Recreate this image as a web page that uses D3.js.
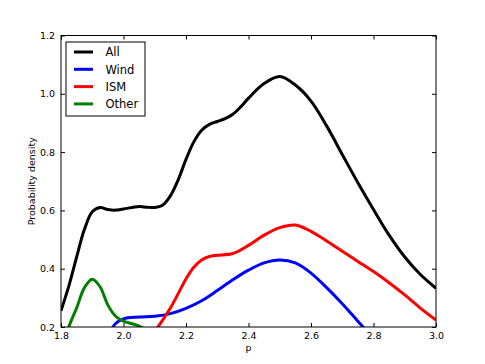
<!DOCTYPE html>
<html>
<head>
<meta charset="utf-8">
<script src="https://cdn.jsdelivr.net/npm/d3@7"></script>
<style>
  body { margin: 0; background: #fff; }
  text { font-family: "DejaVu Sans", sans-serif; }
</style>
</head>
<body>
<div id="my_dataviz"></div>
<script>
// data (p, density)
var pAll    = [1.8, 1.825, 1.85, 1.875, 1.9, 1.925, 1.95, 1.975, 2.0, 2.05, 2.075, 2.1, 2.125, 2.15, 2.175, 2.2, 2.225, 2.25, 2.275, 2.3, 2.325, 2.35, 2.375, 2.4, 2.45, 2.5, 2.55, 2.6, 2.65, 2.7, 2.75, 2.8, 2.85, 2.9, 2.95, 3.0];
var densAll = [0.256, 0.34, 0.44, 0.535, 0.595, 0.61, 0.603, 0.601, 0.605, 0.613, 0.611, 0.61, 0.618, 0.65, 0.705, 0.775, 0.835, 0.875, 0.895, 0.905, 0.915, 0.93, 0.955, 0.985, 1.035, 1.059, 1.03, 0.975, 0.89, 0.792, 0.695, 0.603, 0.515, 0.44, 0.38, 0.333];

var pWind    = [1.95, 1.975, 2.0, 2.05, 2.1, 2.15, 2.2, 2.25, 2.3, 2.35, 2.4, 2.45, 2.5, 2.55, 2.6, 2.65, 2.7, 2.75, 2.8];
var densWind = [0.17, 0.212, 0.228, 0.234, 0.237, 0.246, 0.264, 0.29, 0.325, 0.362, 0.395, 0.42, 0.43, 0.42, 0.385, 0.335, 0.28, 0.22, 0.16];

var pISM    = [2.05, 2.1, 2.15, 2.2, 2.225, 2.25, 2.275, 2.3, 2.35, 2.4, 2.45, 2.5, 2.55, 2.6, 2.65, 2.7, 2.75, 2.8, 2.85, 2.9, 2.95, 3.0];
var densISM = [0.12, 0.185, 0.265, 0.365, 0.405, 0.43, 0.442, 0.446, 0.452, 0.48, 0.515, 0.541, 0.55, 0.528, 0.495, 0.46, 0.425, 0.39, 0.352, 0.31, 0.265, 0.224];

var pOther    = [1.8, 1.825, 1.85, 1.875, 1.9, 1.925, 1.95, 1.975, 2.0, 2.025, 2.05, 2.075];
var densOther = [0.1, 0.2, 0.265, 0.335, 0.364, 0.338, 0.275, 0.237, 0.22, 0.212, 0.203, 0.19];

var seriesNames  = ["All", "Wind", "ISM", "Other"];
var seriesColors = ["#000000", "#0000ff", "#ff0000", "#008000"];
var xTicks = [1.8, 2.0, 2.2, 2.4, 2.6, 2.8, 3.0];
var yTicks = [0.2, 0.4, 0.6, 0.8, 1.0, 1.2];

var margin = {top: 35.5, right: 49, bottom: 37, left: 61},
    width = 485 - margin.left - margin.right,
    height = 364 - margin.top - margin.bottom;

var svg = d3.select("#my_dataviz")
  .append("svg")
    .attr("width", 485)
    .attr("height", 364)
  .append("g")
    .attr("transform", "translate(" + margin.left + "," + margin.top + ")");

var x = d3.scaleLinear().domain([1.8, 3.0]).range([0, width]);
var y = d3.scaleLinear().domain([0.2, 1.2]).range([height, 0]);

svg.append("clipPath").attr("id", "clip")
  .append("rect").attr("width", width).attr("height", height);

var series = [
  {p: pAll, d: densAll},
  {p: pWind, d: densWind},
  {p: pISM, d: densISM},
  {p: pOther, d: densOther}
];

var line = d3.line()
  .x(function(d) { return x(d[0]); })
  .y(function(d) { return y(d[1]); })
  .curve(d3.curveCatmullRom.alpha(0.5));

series.forEach(function(s, i) {
  svg.append("path")
    .datum(s.p.map(function(v, j) { return [v, s.d[j]]; }))
    .attr("clip-path", "url(#clip)")
    .attr("fill", "none")
    .attr("stroke", seriesColors[i])
    .attr("stroke-width", 3)
    .attr("stroke-linejoin", "round")
    .attr("d", line);
});

// axes: matplotlib classic style, ticks inward on all sides
function styleAxis(g) {
  g.select(".domain").remove();
  g.selectAll("text").style("font-family", "DejaVu Sans").style("font-size", "9.5px").attr("fill", "#000");
  g.selectAll("line").attr("stroke", "#000");
}
var fmt = d3.format(".1f");
svg.append("g")
  .attr("transform", "translate(0," + height + ")")
  .call(d3.axisBottom(x).tickValues(xTicks).tickFormat(fmt).tickSizeInner(-4).tickPadding(5))
  .call(styleAxis);
svg.append("g")
  .call(d3.axisTop(x).tickValues(xTicks).tickFormat("").tickSizeInner(-4))
  .call(styleAxis);
svg.append("g")
  .call(d3.axisLeft(y).tickValues(yTicks).tickFormat(fmt).tickSizeInner(-4).tickPadding(6))
  .call(styleAxis);
svg.append("g")
  .attr("transform", "translate(" + width + ",0)")
  .call(d3.axisRight(y).tickValues(yTicks).tickFormat("").tickSizeInner(-4))
  .call(styleAxis);

svg.append("rect")
  .attr("width", width).attr("height", height)
  .attr("fill", "none").attr("stroke", "#000").attr("stroke-width", 1);

// axis labels
svg.append("text")
  .attr("x", width / 2).attr("y", height + 24)
  .attr("text-anchor", "middle").style("font-size", "9.5px")
  .text("p");
svg.append("text")
  .attr("transform", "translate(-26," + (height / 2) + ") rotate(-90)")
  .attr("text-anchor", "middle").style("font-size", "9.5px")
  .text("Probability density");

// legend
var legend = svg.append("g").attr("transform", "translate(5,6.5)");
legend.append("rect")
  .attr("width", 79).attr("height", 74)
  .attr("fill", "#fff").attr("stroke", "#000").attr("stroke-width", 1);
seriesNames.forEach(function(name, i) {
  var ly = 10 + i * 17.3;
  legend.append("line")
    .attr("x1", 8).attr("x2", 27).attr("y1", ly).attr("y2", ly)
    .attr("stroke", seriesColors[i]).attr("stroke-width", 3);
  legend.append("text")
    .attr("x", 39.5).attr("y", ly + 4.3)
    .style("font-size", "11.5px")
    .text(name);
});
</script>
</body>
</html>
